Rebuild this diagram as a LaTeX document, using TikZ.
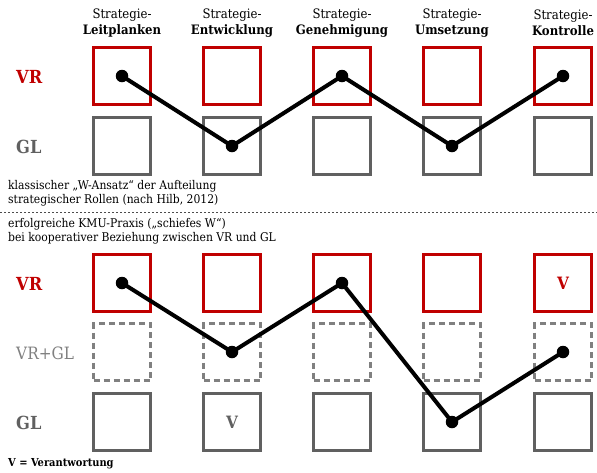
\documentclass[tikz,border=0pt]{standalone}
\usepackage{fontspec}
\setmainfont{DejaVu Serif Condensed}
\definecolor{vrred}{RGB}{192,0,0}
\definecolor{glgray}{RGB}{96,96,96}
\definecolor{dgray}{RGB}{128,128,128}
\begin{document}
\begin{tikzpicture}[x=1pt,y=-1pt,
  vrbox/.style={draw=vrred,line width=2.2pt,minimum size=57pt,inner sep=0pt},
  glbox/.style={draw=glgray,line width=2.2pt,minimum size=57pt,inner sep=0pt},
  mixbox/.style={draw=dgray,line width=2.2pt,dashed,dash pattern=on 6pt off 4pt,minimum size=57pt,inner sep=0pt},
  pt/.style={circle,fill=black,minimum size=12.5pt,inner sep=0pt},
  wline/.style={line width=4pt,black,line join=round},
  hdr/.style={align=center,font=\fontsize{13}{16.5}\selectfont,inner sep=0pt},
  rowlab/.style={anchor=west,font=\fontsize{18}{20}\selectfont\bfseries,inner sep=0pt},
  captext/.style={anchor=north west,align=left,font=\fontsize{12}{14.5}\selectfont,inner sep=0pt},
  vmark/.style={font=\fontsize{17}{19}\selectfont\bfseries,inner sep=0pt}]
\useasboundingbox (0,0) rectangle (597,472);
% headers
\foreach \x/\w [count=\i] in {122/Leitplanken,232/Entwicklung,342/Genehmigung,452/Umsetzung,563/Kontrolle}
  \node[hdr] (h\i) at (\x,23) {Strategie-\\\textbf{\w}};
% top row labels
\node[rowlab,text=vrred] (lvr1) at (16,77) {VR};
\node[rowlab,text=glgray] (lgl1) at (16,147) {GL};
% top boxes
\foreach \x [count=\i] in {122,232,342,452,563}{
  \node[vrbox] (a\i) at (\x,76) {};
  \node[glbox] (b\i) at (\x,146) {};
}
\node[pt] (p1) at (a1) {};
\node[pt] (p2) at (b2) {};
\node[pt] (p3) at (a3) {};
\node[pt] (p4) at (b4) {};
\node[pt] (p5) at (a5) {};
\draw[wline] (p1.center) -- (p2.center) -- (p3.center) -- (p4.center) -- (p5.center);
% captions
\node[captext] (c1) at (8,180) {klassischer „W-Ansatz“ der Aufteilung\\strategischer Rollen (nach Hilb, 2012)};
\coordinate (dl) at (0,212);
\coordinate (dr) at (597,212);
\draw[black!70,line width=0.8pt,dash pattern=on 2pt off 2pt] (dl) -- (dr);
\node[captext] (c2) at (8,218) {erfolgreiche KMU-Praxis („schiefes W“)\\bei kooperativer Beziehung zwischen VR und GL};
% bottom labels
\node[rowlab,text=vrred] (lvr2) at (16,284) {VR};
\node[rowlab,text=dgray,font=\fontsize{17}{20}\selectfont] (lmix) at (16,353) {VR+GL};
\node[rowlab,text=glgray] (lgl2) at (16,423) {GL};
% bottom boxes
\foreach \x [count=\i] in {122,232,342,452,563}{
  \node[vrbox] (d\i) at (\x,283) {};
  \node[mixbox] (e\i) at (\x,352) {};
  \node[glbox] (f\i) at (\x,422) {};
}
\node[vmark,text=vrred] (v1) at (d5) {V};
\node[vmark,text=glgray] (v2) at (f2) {V};
\node[pt] (q1) at (d1) {};
\node[pt] (q2) at (e2) {};
\node[pt] (q3) at (d3) {};
\node[pt] (q4) at (f4) {};
\node[pt] (q5) at (e5) {};
\draw[wline] (q1.center) -- (q2.center) -- (q3.center) -- (q4.center) -- (q5.center);
\node[anchor=west,font=\fontsize{11}{13}\selectfont\bfseries,inner sep=0pt] (leg) at (8,464) {V = Verantwortung};
\end{tikzpicture}
\end{document}
